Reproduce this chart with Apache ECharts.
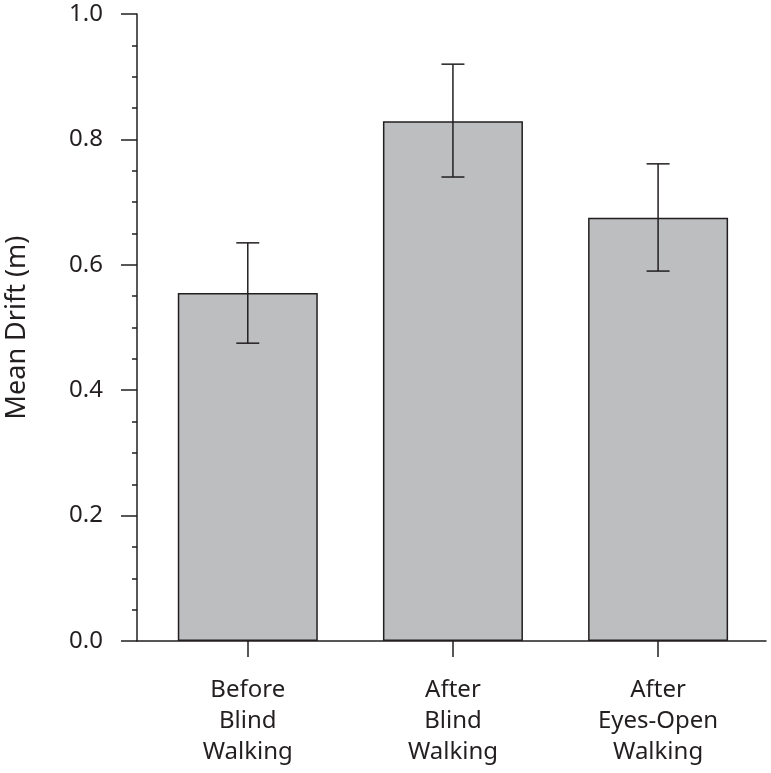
<!DOCTYPE html>
<html><head><meta charset="utf-8">
<script src="https://cdn.jsdelivr.net/npm/echarts@6/dist/echarts.min.js"></script>
<style>html,body{margin:0;padding:0;background:#fff}#c{width:771px;height:773px}</style>
</head><body><div id="c"></div>
<script>
const categories = ['Before\nBlind\nWalking', 'After\nBlind\nWalking', 'After\nEyes-Open\nWalking'];
const meanDrift = [0.555, 0.829, 0.675];
const errLow = [0.475, 0.740, 0.590];
const errHigh = [0.635, 0.920, 0.761];
const yTicks = [0, 0.2, 0.4, 0.6, 0.8, 1.0];

const ink = '#231f20';
const font = 'Noto Sans';
const chart = echarts.init(document.getElementById('c'), null, {renderer: 'canvas'});
const idx = categories.map((_, i) => i);
chart.setOption({
  animation: false,
  grid: {left: 137, right: 5, top: 14, bottom: 132, outerBoundsMode: 'none', containLabel: false},
  xAxis: {
    type: 'value', min: -0.54, max: 2.526,
    splitLine: {show: false},
    axisLine: {show: true, onZero: false, lineStyle: {color: ink, width: 1.5}},
    axisTick: {show: true, customValues: idx, length: 16, lineStyle: {color: ink, width: 1.5}},
    axisLabel: {customValues: idx, formatter: v => categories[Math.round(v)], color: ink,
      fontFamily: font, fontSize: 24, lineHeight: 31, margin: 34}
  },
  yAxis: {
    type: 'value', min: 0, max: 1, interval: 0.2,
    name: 'Mean Drift (m)', nameLocation: 'middle', nameGap: 106,
    nameTextStyle: {color: ink, fontFamily: font, fontSize: 27},
    splitLine: {show: false},
    axisLine: {show: true, onZero: false, lineStyle: {color: ink, width: 1.5}},
    axisTick: {show: true, length: 16, lineStyle: {color: ink, width: 1.5}},
    minorTick: {show: true, splitNumber: 4, length: 5, lineStyle: {color: ink, width: 1.5}},
    axisLabel: {customValues: yTicks, formatter: v => v.toFixed(1), color: ink, fontFamily: font, fontSize: 24, margin: 34}
  },
  series: [{
    type: 'bar',
    data: meanDrift.map((v, i) => [i, v]),
    barWidth: 140,
    itemStyle: {color: '#bcbec0', borderColor: ink, borderWidth: 1.5}
  }, {
    type: 'custom',
    data: idx.map(i => [i, errLow[i], errHigh[i]]),
    renderItem: function (params, api) {
      const x = api.value(0);
      const lo = api.coord([x, api.value(1)]);
      const hi = api.coord([x, api.value(2)]);
      const hw = 11.5;
      const st = {stroke: ink, lineWidth: 1.5};
      return {type: 'group', children: [
        {type: 'line', shape: {x1: lo[0], y1: lo[1], x2: hi[0], y2: hi[1]}, style: st},
        {type: 'line', shape: {x1: lo[0] - hw, y1: lo[1], x2: lo[0] + hw, y2: lo[1]}, style: st},
        {type: 'line', shape: {x1: hi[0] - hw, y1: hi[1], x2: hi[0] + hw, y2: hi[1]}, style: st}
      ]};
    },
    z: 10
  }]
});
</script></body></html>
